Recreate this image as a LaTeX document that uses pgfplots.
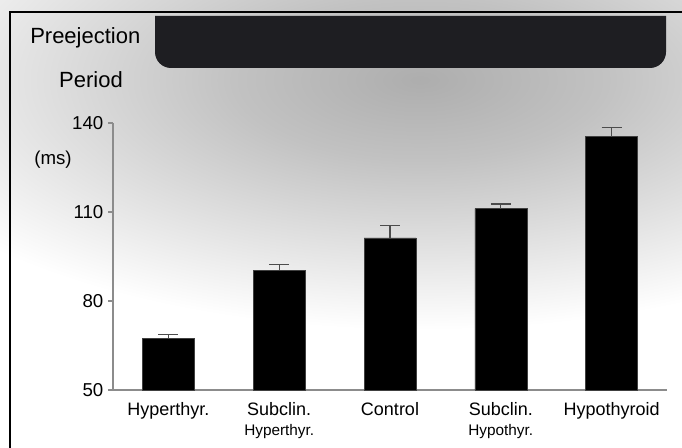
\documentclass[border=0pt]{standalone}
\usepackage{fontspec}
\setmainfont{Liberation Sans}
\usepackage{pgfplots}
\pgfplotsset{compat=1.18}
\definecolor{axgray}{HTML}{8C8C8C}
\definecolor{boxdark}{HTML}{1E1E22}
\pgfdeclareradialshading{bgshade}{\pgfpoint{0bp}{0bp}}{color(0bp)=(black!32); color(8bp)=(black!24); color(25bp)=(white); color(50bp)=(white)}
\begin{document}
\begin{tikzpicture}
\begin{scope}[x=0.75pt,y=-0.75pt]
\path[use as bounding box] (0,0) rectangle (682,448);
\begin{scope}
\clip (0,0) rectangle (682,448);
\fill[white] (0,0) rectangle (682,448);
\shade[shading=bgshade] (420,80) ellipse [x radius=580, y radius=250];
\end{scope}
\fill[boxdark] (155,16) [rounded corners=12] -- (155,68) -- (666,68) [sharp corners] -- (666,16) -- cycle;
\draw[line width=1.2pt] (682,12) -- (10,12) -- (10,448);
\node[anchor=west, font=\fontsize{16.5}{18}\selectfont, inner sep=0pt] at (30,38) {Preejection};
\node[font=\fontsize{16.5}{18}\selectfont, inner sep=0pt] at (91,80) {Period};
\node[font=\fontsize{14}{16}\selectfont, inner sep=0pt] at (53,160) {(ms)};
\end{scope}
\begin{axis}[
  at={(84.75pt,-292.5pt)}, anchor=south west,
  width=415.5pt, height=200.25pt, scale only axis,
  xmin=-0.5, xmax=4.5, ymin=50, ymax=140,
  axis lines*=left,
  axis line style={axgray, line width=1pt},
  ytick={50,80,110,140},
  xtick={0,1,2,3,4},
  xticklabels={Hyperthyr., {Subclin.\\{\fontsize{11.5}{13}\selectfont Hyperthyr.}}, Control, {Subclin.\\{\fontsize{11.5}{13}\selectfont Hypothyr.}}, Hypothyroid},
  xtick style={draw=none},
  ytick style={axgray, line width=0.8pt},
  tick align=outside,
  major tick length=3.75pt,
  /pgf/number format/assume math mode=true,
  yticklabel style={font=\fontsize{14}{16}\selectfont},
  xticklabel style={font=\fontsize{13.5}{15}\selectfont, align=center, anchor=north, yshift=-2pt},
  clip=false,
]
\addplot[ybar, bar width=39pt, fill=black, draw=black!75,
  error bars/.cd, y dir=plus, y explicit,
  error bar style={black!70, line width=0.8pt},
  error mark options={rotate=90, mark size=7.5pt, black!70, line width=0.8pt}]
  coordinates {
  (0,67.4) +- (0,1.4)
  (1,90.4) +- (0,2.0)
  (2,101.3) +- (0,4.3)
  (3,111.1) +- (0,1.6)
  (4,135.4) +- (0,3.0)
  };
\end{axis}
\end{tikzpicture}
\end{document}
